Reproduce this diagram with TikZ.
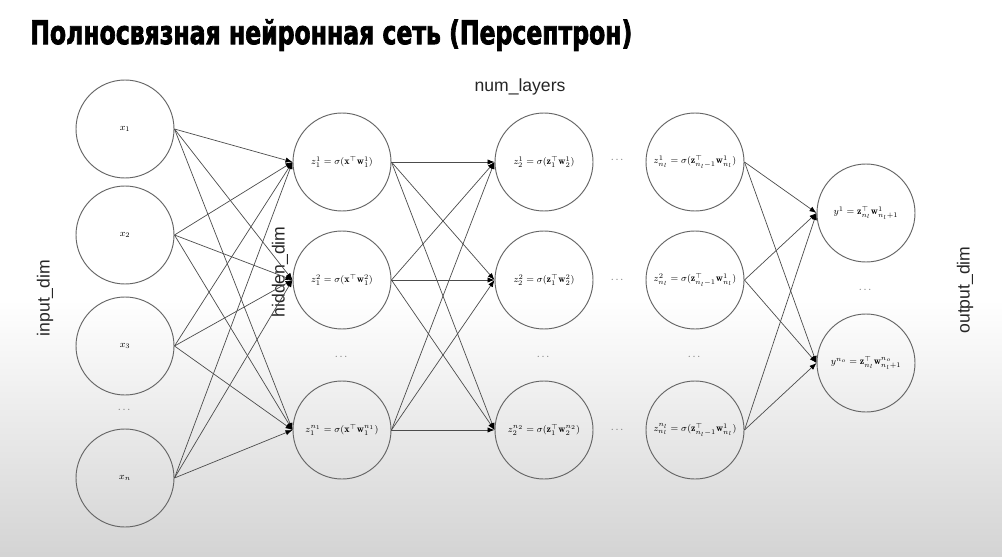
\documentclass[tikz,border=0pt]{standalone}
\usepackage{fontspec}
\usepackage{amsmath}
\usepackage{graphicx}
\setsansfont{Liberation Sans}
\newfontfamily\titlefont{DejaVu Sans Condensed}[BoldFeatures={FakeBold=2.5}]
\usetikzlibrary{arrows.meta}
\begin{document}
\begin{tikzpicture}[x=0.03cm,y=-0.03cm,
  neuron/.style={circle,draw=black!60,line width=0.8pt,inner sep=0pt,minimum size=2.94cm,font=\fontsize{8.5}{10}\selectfont},
  edge/.style={draw=black!70,line width=0.6pt,-{Latex[length=6pt,width=4.5pt,black]}},
  dimlabel/.style={font=\sffamily\fontsize{15}{18}\selectfont,text=black!85},
  dotsnode/.style={font=\fontsize{9}{10}\selectfont,text=black!60}]
\useasboundingbox (0,0) rectangle (1002,557);
\fill[white] (0,0) rectangle (1002,300);
\shade[top color=white,bottom color=black!17] (0,300) rectangle (1002,557);
% title
\node[anchor=north west,inner sep=0pt] (title) at (30,19)
  {\resizebox*{18.06cm}{0.95cm}{\titlefont\bfseries Полносвязная нейронная сеть (Персептрон)}};
% input layer
\node[neuron] (i1) at (125,129) {$x_1$};
\node[neuron] (i2) at (125,235) {$x_2$};
\node[neuron] (i3) at (125,346) {$x_3$};
\node[dotsnode] (idots) at (125,410) {$\cdots$};
\node[neuron] (i4) at (125,478) {$x_n$};
% hidden layer 1
\node[neuron] (h1) at (342,162) {$z_1^1=\sigma(\mathbf{x}^\top\mathbf{w}_1^1)$};
\node[neuron] (h2) at (342,280) {$z_1^2=\sigma(\mathbf{x}^\top\mathbf{w}_1^2)$};
\node[dotsnode] (hdots) at (342,357) {$\cdots$};
\node[neuron] (h3) at (342,430) {$z_1^{n_1}=\sigma(\mathbf{x}^\top\mathbf{w}_1^{n_1})$};
% hidden layer 2
\node[neuron] (k1) at (544,162) {$z_2^1=\sigma(\mathbf{z}_1^\top\mathbf{w}_2^1)$};
\node[neuron] (k2) at (544,280) {$z_2^2=\sigma(\mathbf{z}_1^\top\mathbf{w}_2^2)$};
\node[dotsnode] (kdots) at (544,357) {$\cdots$};
\node[neuron] (k3) at (544,430) {$z_2^{n_2}=\sigma(\mathbf{z}_1^\top\mathbf{w}_2^{n_2})$};
% dots between layers
\node[dotsnode] (m1) at (618,160) {$\cdots$};
\node[dotsnode] (m2) at (618,280) {$\cdots$};
\node[dotsnode] (m3) at (618,430) {$\cdots$};
% last hidden layer
\node[neuron] (l1) at (695,162) {$z_{n_l}^1=\sigma(\mathbf{z}_{n_l-1}^\top\mathbf{w}_{n_l}^1)$};
\node[neuron] (l2) at (695,280) {$z_{n_l}^2=\sigma(\mathbf{z}_{n_l-1}^\top\mathbf{w}_{n_l}^1)$};
\node[dotsnode] (ldots) at (695,357) {$\cdots$};
\node[neuron] (l3) at (695,430) {$z_{n_l}^{n_l}=\sigma(\mathbf{z}_{n_l-1}^\top\mathbf{w}_{n_l}^1)$};
% output layer
\node[neuron] (o1) at (866,213) {$y^1=\mathbf{z}_{n_l}^\top\mathbf{w}_{n_l+1}^1$};
\node[dotsnode] (odots) at (866,290) {$\cdots$};
\node[neuron] (o2) at (866,363) {$y^{n_o}=\mathbf{z}_{n_l}^\top\mathbf{w}_{n_l+1}^{n_o}$};
% labels
\node[dimlabel,rotate=90] (lin) at (45,298) {input\_dim};
\node[dimlabel,rotate=90] (lhid) at (280,272) {hidden\_dim};
\node[dimlabel] (lnum) at (520,87) {num\_layers};
\node[dimlabel,rotate=90] (lout) at (965,290) {output\_dim};
% edges
\foreach \a in {i1,i2,i3,i4}
  \foreach \b in {h1,h2,h3}
    \draw[edge] (\a.east) -- (\b.west);
\foreach \a in {h1,h2,h3}
  \foreach \b in {k1,k2,k3}
    \draw[edge] (\a.east) -- (\b.west);
\foreach \a in {l1,l2,l3}
  \foreach \b in {o1,o2}
    \draw[edge] (\a.east) -- (\b.west);
\end{tikzpicture}
\end{document}
